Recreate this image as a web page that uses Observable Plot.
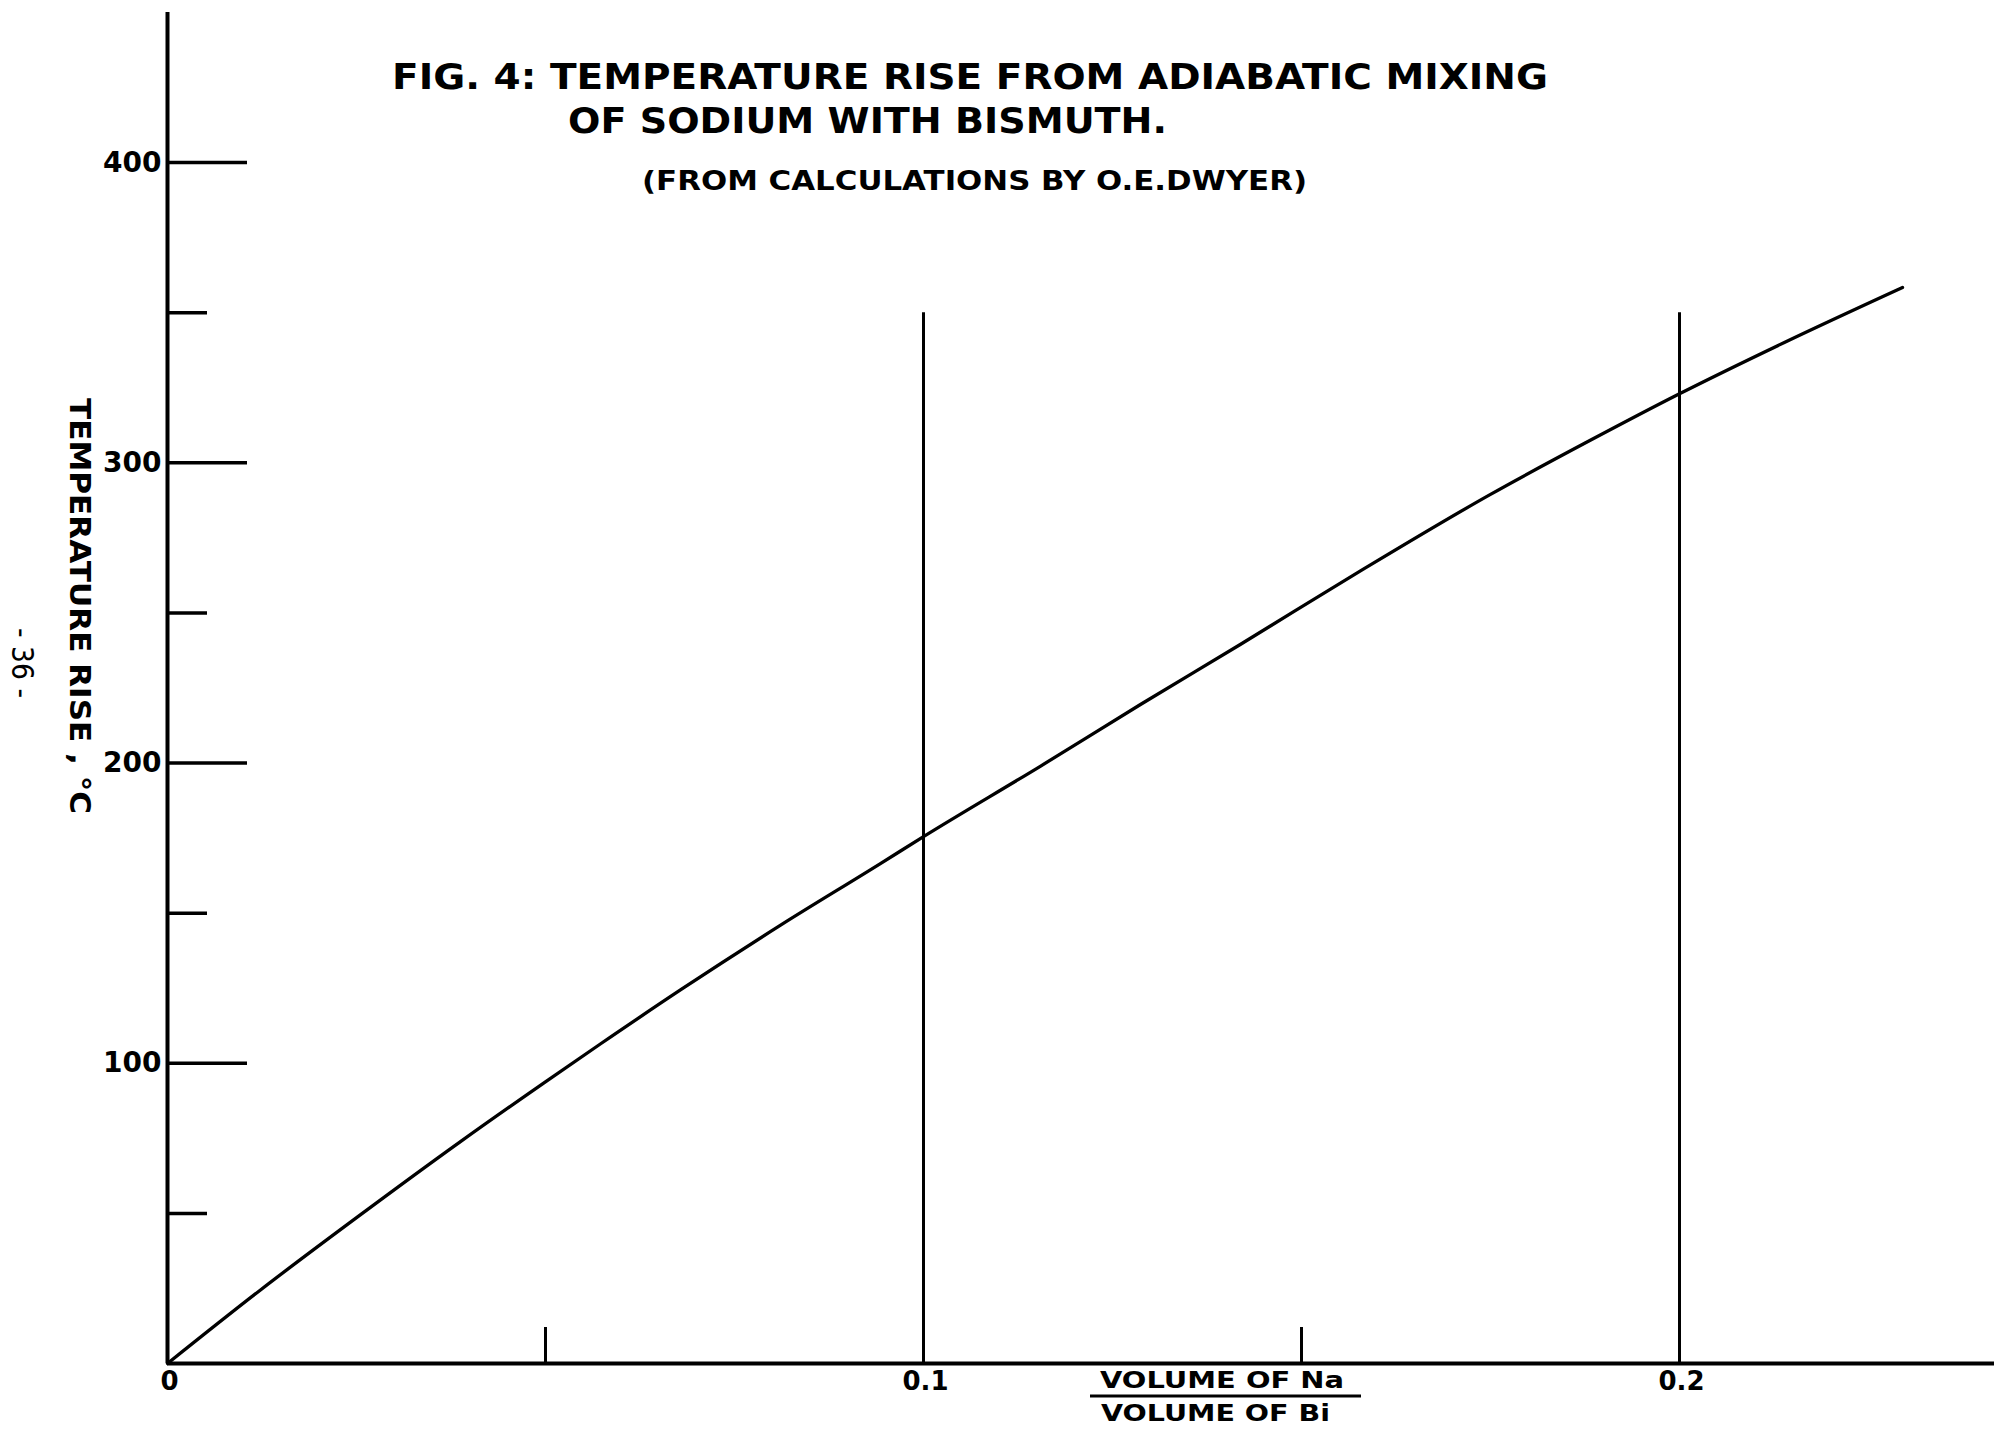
<!DOCTYPE html>
<html>
<head>
<meta charset="utf-8">
<script src="https://cdn.jsdelivr.net/npm/d3@7"></script>
<script src="https://cdn.jsdelivr.net/npm/@observablehq/plot@0.6"></script>
<style>
  body { margin: 0; background: #fff; }
  #wrap { position: relative; width: 1994px; height: 1430px; overflow: hidden; background: #fff; }
  #overlay { position: absolute; left: 0; top: 0; pointer-events: none; }
  #overlay text { font-family: "DejaVu Sans", sans-serif; fill: #000; }
</style>
</head>
<body>
<div id="wrap"></div>
<script>
// ---- data ----
const volumeRatio = [0, 0.0123, 0.0255, 0.0388, 0.0498, 0.0573, 0.0679, 0.0811, 0.0943, 0.1, 0.1155, 0.1287, 0.1419, 0.1578, 0.1750, 0.1882, 0.2, 0.2138, 0.2295];
const tempRise    = [0, 24.5, 49.5, 74, 93.5, 106.5, 124.5, 146, 166.5, 175.5, 199, 219.5, 239.5, 264, 289.5, 307.5, 323, 340, 358.4];

const yMajorTicks = [100, 200, 300, 400];
const yMinorTicks = [50, 150, 250, 350];
const xLabeledTicks = [0, 0.1, 0.2];
const xMinorTicks = [0.05, 0.15];
const xGridLines = [0.1, 0.2];
const gridTop = 350;

const titleLine1 = "FIG. 4:  TEMPERATURE RISE FROM ADIABATIC MIXING";
const titleLine2 = "OF SODIUM WITH BISMUTH.";
const subtitle = "(FROM CALCULATIONS BY O.E.DWYER)";
const yLabel = "TEMPERATURE  RISE , °C";
const xLabelTop = "VOLUME OF Na";
const xLabelBottom = "VOLUME OF Bi";
const pageNumber = "- 36 -";

// ---- layout ----
const W = 1994, H = 1430;
const mL = 167, mR = 0, mT = 12, mB = 67;
const frameW = W - mL - mR, frameH = H - mT - mB;

const rows = volumeRatio.map((r, i) => ({ r, t: tempRise[i] }));

const chart = Plot.plot({
  width: W,
  height: H,
  marginLeft: mL,
  marginRight: mR,
  marginTop: mT,
  marginBottom: mB,
  x: { domain: [0, frameW / 7560], label: null },
  y: { domain: [0, 450], label: null },
  style: { fontFamily: "DejaVu Sans, sans-serif", background: "white", color: "black" },
  marks: [
    Plot.axisX({ ticks: xLabeledTicks, tickSize: 0, tickPadding: 8, fontSize: 26, fontWeight: "bold",
                 tickFormat: d => d === 0 ? "0" : d.toFixed(1), label: null, dx: 2 }),
    Plot.axisY({ ticks: yMajorTicks, tickSize: 0, tickPadding: 6, fontSize: 28, fontWeight: "bold",
                 tickFormat: d => String(d), label: null }),
    Plot.tickY(yMajorTicks, { y: d => d, insetRight: frameW - 80, strokeWidth: 3.5 }),
    Plot.tickY(yMinorTicks, { y: d => d, insetRight: frameW - 40, strokeWidth: 3.5 }),
    Plot.tickX(xMinorTicks, { x: d => d, insetTop: frameH - 36, strokeWidth: 3 }),
    Plot.ruleX(xGridLines, { x: d => d, y1: 0, y2: gridTop, strokeWidth: 3 }),
    Plot.ruleX([0], { y1: 0, y2: 450, strokeWidth: 4 }),
    Plot.ruleY([0], { strokeWidth: 4 }),
    Plot.line(rows, { x: "r", y: "t", strokeWidth: 3.3, curve: "monotone-x" })
  ]
});

const wrap = document.getElementById("wrap");
wrap.appendChild(chart);

// ---- text overlay (titles and labels) ----
const svg = d3.select(wrap).append("svg")
  .attr("id", "overlay").attr("width", W).attr("height", H);

function txt(s, x, y, size, weight, len, rot) {
  const t = svg.append("text")
    .attr("font-size", size).attr("font-weight", weight)
    .attr("textLength", len).attr("lengthAdjust", "spacingAndGlyphs")
    .text(s);
  if (rot) t.attr("transform", `translate(${x},${y}) rotate(${rot})`);
  else t.attr("x", x).attr("y", y);
  return t;
}

txt(titleLine1, 392, 89, 36, "bold", 1156);
txt(titleLine2, 568, 133, 36, "bold", 599);
txt(subtitle, 642, 190, 27, "bold", 665);
txt(yLabel, 70, 398, 29, "bold", 416, 90);
txt(pageNumber, 12, 628, 30, "normal", 70, 90);
txt(xLabelTop, 1100, 1388, 23, "bold", 244);
txt(xLabelBottom, 1101, 1421, 23, "bold", 229);
svg.append("line").attr("x1", 1090).attr("x2", 1361).attr("y1", 1396).attr("y2", 1396)
  .attr("stroke", "#000").attr("stroke-width", 3);
</script>
</body>
</html>
